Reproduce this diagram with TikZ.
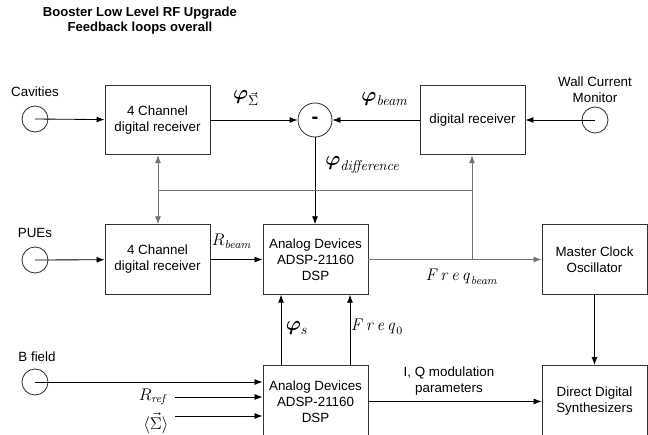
\documentclass[tikz,border=0pt]{standalone}
\usepackage[no-math]{fontspec}
\setmainfont{Liberation Sans}
\usepackage{amsmath}
\usetikzlibrary{arrows.meta,positioning,calc}

\begin{document}
\begin{tikzpicture}[
  x=0.025cm, y=-0.025cm,
  font=\fontsize{9.5}{11.4}\selectfont,
  >={Latex[length=2mm,width=1.5mm]},
  block/.style={draw=black!80, line width=.6pt, minimum width=2.625cm, minimum height=1.74cm, align=center, inner sep=1pt},
  source/.style={circle, draw=black!80, line width=.6pt, minimum size=.65cm, inner sep=0pt},
  flow/.style={->, draw=black, line width=.6pt},
  feed/.style={->, draw=black!55, line width=.6pt},
  sig/.style={font=\Large, inner sep=1pt},
  var/.style={font=\large, inner sep=1pt}
]
  \useasboundingbox (0,0) rectangle (648,434);

  \node[font=\bfseries\fontsize{9.3}{10.8}\selectfont, align=center] (title) at (140,21) {Booster Low Level RF Upgrade\\Feedback loops overall};

  % top row: phase detection
  \node (cavlbl) at (35,92) {Cavities};
  \node[source] (cav) at (35,119) {};
  \node[block] (rxcav) at (157.5,120) {4 Channel\\digital receiver};
  \node[source, minimum size=.85cm, font=\Large\bfseries] (diff) at (315,120) {-};
  \node[block] (rxwcm) at (472.5,120) {digital receiver};
  \node[align=center] (wcmlbl) at (595,90) {Wall Current\\Monitor};
  \node[source] (wcm) at (595,120) {};

  % middle row
  \node (puelbl) at (35,233) {PUEs};
  \node[source] (pue) at (35,260) {};
  \node[block] (rxpue) at (157.5,259.5) {4 Channel\\digital receiver};
  \node[block] (dsp) at (315.5,259.5) {Analog Devices\\ADSP-21160\\DSP};
  \node[block] (clock) at (594.5,259.5) {Master Clock\\Oscillator};

  % bottom row, boxes run off the page
  \node (bfldlbl) at (37,357) {B field};
  \node[source] (bfield) at (35,382) {};
  \node[block, anchor=north, minimum height=1.8cm] (dsplow) at (315.5,365) {Analog Devices\\ADSP-21160\\DSP};
  \node[block, anchor=north, minimum height=1.8cm] (dds) at (594.5,365) {Direct Digital\\Synthesizers};
  \node[var, anchor=east] (rref) at (170,397) {$R_{\mathit{ref}}$};
  \node[var, anchor=east] (sumavg) at (170,423) {$\langle\vec{\Sigma}\rangle$};
  \coordinate (sumin) at (175,416);

  \coordinate (tap) at (472,259.5);
  \coordinate (busr) at (472,190);
  \coordinate (busl) at (158,190);

  \draw[flow] (cav.center) -- (rxcav);
  \draw[flow] (rxcav) -- (diff);
  \draw[flow] (wcm.center) -- (rxwcm);
  \draw[flow] (rxwcm) -- (diff);
  \draw[flow] (diff.south) -- (diff.south |- dsp.north);
  \draw[flow] (pue.center) -- (rxpue);
  \draw[flow] (rxpue) -- (dsp);
  \draw[feed] (dsp) -- (clock);
  \draw[draw=black!55, line width=.6pt] (tap) -- (busr) -- (busl);
  \draw[feed] (busr) -- (busr |- rxwcm.south);
  \draw[feed] (busl) -- (busl |- rxcav.south);
  \draw[feed] (busl) -- (busl |- rxpue.north);
  \draw[flow] (clock) -- (dds);
  \draw[flow] (dsplow.north -| 281,0) -- (dsp.south -| 281,0);
  \draw[flow] (dsplow.north -| 350,0) -- (dsp.south -| 350,0);
  \draw[flow] (dsplow) -- (dds);
  \draw[flow] (bfield.center) -- (bfield.center -| dsplow.west);
  \draw[flow] ([xshift=.12cm]rref.east) -- (rref.east -| dsplow.west);
  \draw[flow] (sumin) -- (sumin -| dsplow.west);

  % signal labels
  \node[sig] (phisum) at (246,98) {$\boldsymbol{\varphi}_{\vec{\Sigma}}$};
  \node[sig] (phibeam) at (385,99) {$\boldsymbol{\varphi}_{\mathit{beam}}$};
  \node[sig] (phidiff) at (363,165) {$\boldsymbol{\varphi}_{\mathit{difference}}$};
  \node[var] (rbeam) at (232,241) {$R_{\mathit{beam}}$};
  \node[var] (fbeam) at (462,277) {$\mathit{F\mkern2mu r\mkern2mu e\mkern2mu q}_{\mathit{beam}}$};
  \node[sig] (phis) at (297,328) {$\boldsymbol{\varphi}_{s}$};
  \node[var] (freq0) at (377,327) {$\mathit{F\mkern2mu r\mkern2mu e\mkern2mu q}_{0}$};
  \node[align=center] (iqlbl) at (449,381) {I, Q modulation\\parameters};
\end{tikzpicture}
\end{document}
